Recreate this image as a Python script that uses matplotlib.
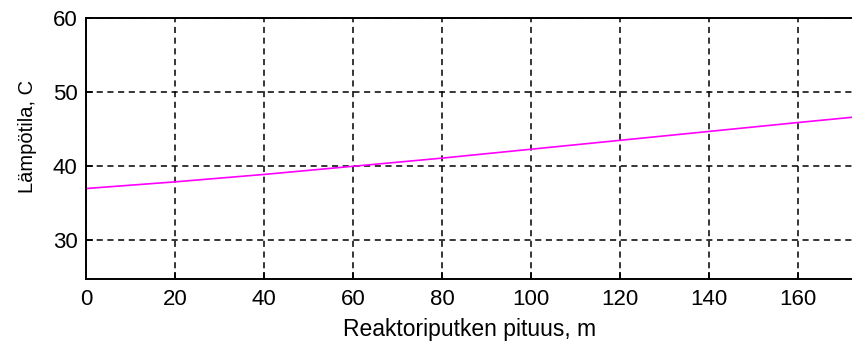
import matplotlib.pyplot as plt

plt.rcParams['font.family'] = ['Liberation Sans', 'DejaVu Sans']

# pituus (m) ja lämpötila (C) luettu kuvasta
pituus = [0, 20, 40, 60, 80, 100, 120, 140, 160, 172]
lampotila = [37.0, 37.9, 38.9, 40.0, 41.1, 42.3, 43.5, 44.7, 45.9, 46.6]

xticks = [0, 20, 40, 60, 80, 100, 120, 140, 160]
yticks = [30, 40, 50, 60]

fig = plt.figure(figsize=(8.53, 3.49), dpi=100)
ax = fig.add_axes([0.1008, 0.2006, 0.8992, 0.7478])

ax.plot(pituus, lampotila, color='#ff00ff', linewidth=1.2)

ax.set_xlim(0, 172.4)
ax.set_ylim(24.8, 60)
ax.set_xticks(xticks)
ax.set_yticks(yticks)
ax.grid(True, color='black', linestyle=(0, (4, 3)), linewidth=1.1)
ax.tick_params(direction='in', length=5, width=1.2, labelsize=16)
ax.tick_params(axis='x', pad=7)
ax.tick_params(axis='y', pad=6)
ax.spines['right'].set_visible(False)
for s in ['left', 'top', 'bottom']:
    ax.spines[s].set_linewidth(1.4)

ax.set_xlabel("Reaktoriputken pituus, m", fontsize=16.5, labelpad=6)
ax.set_ylabel("Lämpötila, C", fontsize=14.5)
ax.yaxis.set_label_coords(-0.064, 0.548)

fig.savefig("out.png", dpi=100)
